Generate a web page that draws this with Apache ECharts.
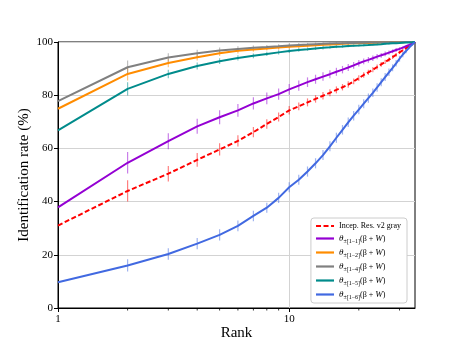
<!DOCTYPE html>
<html><head><meta charset="utf-8">
<script src="https://cdn.jsdelivr.net/npm/echarts@6/dist/echarts.min.js"></script>
<style>html,body{margin:0;padding:0;background:#fff}#c{width:461px;height:346px}</style>
</head><body><div id="c"></div>
<script>
const ranks = [1,2,3,4,5,6,7,8,9,10,11,12,13,14,15,16,17,18,19,20,21,22,23,24,25,26,27,28,29,30,31,32,33,34,35];
const seriesNames = ['Incep. Res. v2 gray','θ±[1−1](β + W)','θ±[1−2](β + W)','θ±[1−4](β + W)','θ±[1−5](β + W)','θ±[1−6](β + W)'];
const subs = ['', '±[1−1]', '±[1−2]', '±[1−4]', '±[1−5]', '±[1−6]'];
const colors = ['#ff0000','#9400d3','#ff8c00','#808080','#008b8b','#4169e1'];
const xMajorTicks = [1,10];
const xMinorTicks = [2,3,4,5,6,7,8,9,20,30];

const incepRes = [31,44,50.5,55.7,59.6,62.8,66.1,69.2,71.8,74.3,75.8,77.3,78.6,79.8,80.9,82,83,84,85.2,86.4,87.6,88.6,89.6,90.6,91.6,92.5,93.4,94.3,95.2,96.1,96.9,97.7,98.5,99.3,100];
const theta11 = [37.8,54.6,62.7,68.3,71.7,74.3,76.9,78.8,80.4,82.2,83.6,84.9,86,87,87.9,88.8,89.6,90.4,91.2,92,92.7,93.3,93.9,94.5,95,95.5,96,96.5,97,97.4,97.9,98.4,98.9,99.4,100];
const theta12 = [74.9,88,92.1,94.3,95.8,96.7,97.2,97.6,97.9,98.2,98.4,98.6,98.8,98.95,99.1,99.2,99.3,99.4,99.5,99.55,99.6,99.65,99.7,99.75,99.8,99.82,99.85,99.87,99.9,99.92,99.94,99.96,99.98,99.99,100];
const theta14 = [77.8,90.5,94.2,95.8,96.8,97.4,97.8,98.1,98.4,98.7,98.9,99.05,99.2,99.3,99.4,99.5,99.55,99.6,99.65,99.7,99.74,99.78,99.8,99.83,99.86,99.88,99.9,99.92,99.94,99.95,99.96,99.97,99.98,99.99,100];
const theta15 = [66.8,82.4,88,91,92.8,94,94.8,95.5,96.1,96.6,97,97.3,97.6,97.8,98,98.2,98.35,98.5,98.6,98.7,98.8,98.9,99,99.1,99.2,99.3,99.4,99.5,99.55,99.6,99.7,99.8,99.85,99.9,100];
const theta16 = [9.7,16,20.3,24.2,27.5,30.9,34.6,37.7,41.4,45.4,48.2,51.3,54.4,57.5,60.8,64,67,69.8,72.3,74.6,76.8,78.9,80.9,82.9,84.9,86.8,88.6,90.3,92,93.7,95.3,96.6,97.9,99,100];

const errIncep = [0,4,2.9,2.6,2.3,2.1,1.9,1.8,1.7,1.6,1.5,1.5,1.4,1.4,1.3,1.3,1.2,1.2,1.1,1.1,1,1,1,0.9,0.9,0.8,0.8,0.7,0.7,0.6,0.5,0.4,0.3,0.2,0];
const errT11 = [0,4,3,2.8,2.6,2.4,2.3,2.2,2.1,2,1.9,1.8,1.7,1.6,1.5,1.5,1.4,1.3,1.3,1.2,1.1,1.1,1,1,0.9,0.9,0.8,0.7,0.7,0.6,0.5,0.4,0.3,0.2,0];
const errHigh = [0,2.5,1.6,1.3,1.1,1,0.9,0.8,0.8,0.7,0.7,0.6,0.6,0.6,0.5,0.5,0.5,0.5,0.4,0.4,0.4,0.4,0.3,0.3,0.3,0.3,0.3,0.2,0.2,0.2,0.2,0.1,0.1,0.1,0];
const errT16 = [0,2.3,2.2,2.1,2.1,2,2,1.9,1.9,1.9,1.9,1.9,1.9,1.9,1.9,1.9,1.8,1.8,1.8,1.8,1.7,1.7,1.6,1.6,1.5,1.5,1.4,1.3,1.2,1.1,1,0.8,0.6,0.4,0];

const values = [incepRes, theta11, theta12, theta14, theta15, theta16];
const errors = [errIncep, errT11, errHigh, errHigh, errHigh, errT16];
const FONT = 'Liberation Serif';

const chart = echarts.init(document.getElementById('c'), null, {renderer:'canvas'});

const series = [];
values.forEach((vals, k) => {
  const errs = errors[k];
  const col = colors[k];
  series.push({
    type:'custom', silent:true, z:1, clip:true,
    data: ranks.map((r,i)=>[r, vals[i]-errs[i], vals[i]+errs[i]]),
    encode:{x:0, y:[1,2]},
    renderItem(params, api){
      const p1 = api.coord([api.value(0), api.value(1)]);
      const p2 = api.coord([api.value(0), api.value(2)]);
      return {type:'line', shape:{x1:p1[0],y1:p1[1],x2:p2[0],y2:p2[1]}, style:{stroke:col, lineWidth:1.2, opacity:0.5}};
    }
  });
});
values.forEach((vals, k) => {
  series.push({
    type:'line', name:seriesNames[k], z:3 + k, showSymbol:false, symbol:'none',
    data: ranks.map((r,i)=>[r, vals[i]]),
    itemStyle:{color:colors[k]},
    lineStyle:{color:colors[k], width:2, type: k===0 ? [5,2.5] : 'solid'}
  });
});
// minor x ticks (log axis 2..9, 20, 30)
series.push({
  type:'custom', silent:true, clip:false, z:10,
  data: xMinorTicks.map(v=>[v, 0]),
  encode:{x:0, y:1},
  renderItem(params, api){
    const p = api.coord([api.value(0), 0]);
    return {type:'line', shape:{x1:p[0], y1:p[1], x2:p[0], y2:p[1]+2.5}, style:{stroke:'#000', lineWidth:0.8}};
  }
});

chart.setOption({
  animation:false,
  backgroundColor:'#fff',
  grid:{left:58, right:46, top:42, bottom:38, show:true, borderColor:'#000', borderWidth:1},
  xAxis:{
    type:'log', logBase:10, min:1, max:35,
    name:'Rank', nameLocation:'middle', nameGap:18, nameMoveOverlap:false,
    nameTextStyle:{fontFamily:FONT, fontSize:15, color:'#000'},
    axisLine:{lineStyle:{color:'#000', width:1}},
    axisTick:{customValues:xMajorTicks, length:4, lineStyle:{color:'#000'}},
    axisLabel:{customValues:xMajorTicks, fontFamily:FONT, fontSize:11, color:'#000', margin:6},
    splitLine:{show:true, lineStyle:{color:'#d3d3d3', width:1}}
  },
  yAxis:{
    type:'value', min:0, max:100, interval:20,
    name:'Identification rate (%)', nameLocation:'middle', nameGap:26, nameMoveOverlap:false,
    nameTextStyle:{fontFamily:FONT, fontSize:15, color:'#000'},
    axisLine:{show:true, lineStyle:{color:'#000', width:1}},
    axisTick:{show:true, length:4, lineStyle:{color:'#000'}},
    axisLabel:{fontFamily:FONT, fontSize:11, color:'#000', margin:5},
    splitLine:{show:true, lineStyle:{color:'#d3d3d3', width:1}}
  },
  legend:{
    orient:'vertical', right:54, bottom:43,
    itemWidth:18, itemHeight:8, itemGap:4, padding:[4,6,3,4],
    borderColor:'#ccc', borderWidth:1, borderRadius:3, backgroundColor:'#fff',
    itemStyle:{opacity:0},
    lineStyle:{width:2.2},
    data: seriesNames,
    textStyle:{fontFamily:FONT, fontSize:8, color:'#000',
      rich:{
        t:{fontFamily:FONT, fontSize:9, fontStyle:'italic', color:'#000'},
        s:{fontFamily:FONT, fontSize:6, color:'#000', padding:[5,0,0,0]},
        n:{fontFamily:FONT, fontSize:8, color:'#000'}
      }},
    formatter(name){
      const k = seriesNames.indexOf(name);
      if (k === 0) return name;
      return '{t|θ}{s|' + subs[k] + '}{n|(β + }{t|W}{n|)}';
    }
  },
  series
});
</script></body></html>
